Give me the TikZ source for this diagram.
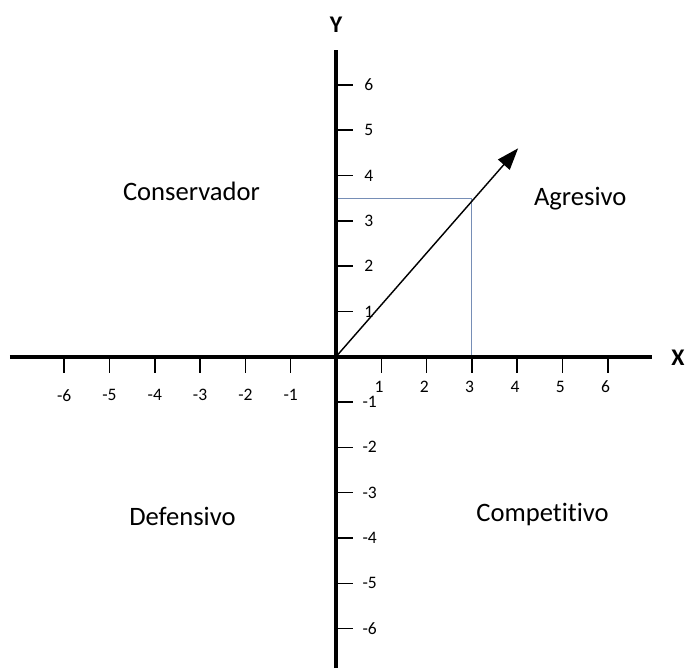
\documentclass[tikz,border=0pt]{standalone}
\usepackage{fontspec}
\setmainfont{Carlito}[Ligatures={NoCommon}]
\usetikzlibrary{arrows.meta}
\definecolor{projblue}{RGB}{118,142,182}

\begin{document}
\begin{tikzpicture}[x=1cm, y=1cm,
  axis/.style={line width=2.5pt},
  tickmark/.style={line width=0.9pt},
  ticklabel/.style={font=\fontsize{11}{13}\selectfont, inner sep=0pt},
  quadlabel/.style={font=\fontsize{16.7}{20}\selectfont},
  axislabel/.style={font=\fontsize{15}{17}\selectfont\bfseries}]
  \useasboundingbox (-7.417,-6.872) rectangle (7.726,7.874);

  % Define the axis end points and the marked point
  \coordinate (O) at (0,0);          % Origin
  \coordinate (xmin) at (-7.2,0);    % Left end of X axis
  \coordinate (xmax) at (6.97,0);    % Right end of X axis
  \coordinate (ymin) at (0,-6.872);  % Bottom end of Y axis
  \coordinate (ymax) at (0,6.77);    % Top end of Y axis
  \coordinate (P) at (3,3.5);        % Marked point
  \coordinate (Px) at (3,0);         % Projection on X
  \coordinate (Py) at (0,3.5);       % Projection on Y
  \coordinate (tip) at (4.02,4.6);   % Arrow tip

  % Draw projection lines of the marked point
  \draw[projblue, line width=0.6pt] (Py) -- (P) -- (Px);

  % Draw the axes
  \draw[axis] (xmin) -- (xmax);
  \draw[axis] (ymin) -- (ymax);
  \node[axislabel] (xlab) at (7.55,-0.03) {X};
  \node[axislabel] (ylab) at (0,7.32) {Y};

  % Draw tick marks and their labels
  \foreach \i [count=\k] in {-6,...,-1} {
    \draw[tickmark] (\i,0) -- (\i,-0.36);
    \node[ticklabel] (xn\k) at (\i,-0.85) {\i};
    \draw[tickmark] (0,\i) -- (0.37,\i);
    \node[ticklabel, anchor=west] (yn\k) at (0.58,\i) {\i};
  }
  \foreach \i in {1,...,6} {
    \draw[tickmark] (\i,0) -- (\i,-0.36);
    \node[ticklabel] (xp\i) at (\i-0.05,-0.66) {\i};
    \draw[tickmark] (0,\i) -- (0.37,\i);
    \node[ticklabel, anchor=west] (yp\i) at (0.62,\i) {\i};
  }

  % Draw the vector
  \draw[line width=0.9pt, -{Triangle[length=4.8mm, width=3.4mm]}] (O) -- (tip);

  % Label the quadrants
  \node[quadlabel] (cons) at (-3.19,3.64) {Conservador};
  \node[quadlabel] (agre) at (5.39,3.50) {Agresivo};
  \node[quadlabel] (defe) at (-3.39,-3.53) {Defensivo};
  \node[quadlabel] (comp) at (4.56,-3.49) {Competitivo};
\end{tikzpicture}
\end{document}
